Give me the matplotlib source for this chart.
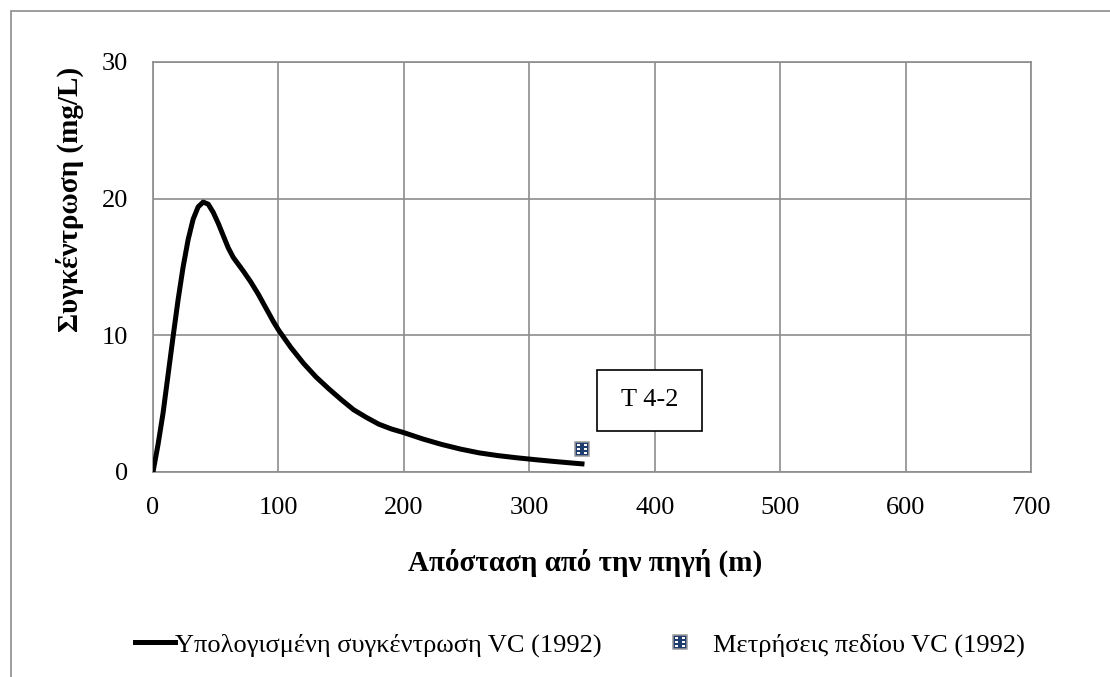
import matplotlib
matplotlib.use("Agg")
import matplotlib.pyplot as plt
from matplotlib.patches import Rectangle
from matplotlib.lines import Line2D
from matplotlib.path import Path

plt.rcParams['font.family'] = ['Liberation Serif', 'DejaVu Serif']

# Data
dist_calc = [0, 4, 8, 12, 16, 20, 24, 28, 32, 36, 40, 44, 48, 52, 56, 60, 64, 68, 72, 78,
             84, 90, 96, 100, 110, 120, 130, 140, 150, 160, 170, 180, 190, 200, 215, 230,
             245, 260, 275, 290, 305, 320, 335, 344]
conc_calc = [0, 2.0, 4.3, 7.1, 9.9, 12.6, 15.0, 17.0, 18.5, 19.4, 19.75, 19.6, 19.0, 18.2,
             17.3, 16.4, 15.7, 15.2, 14.7, 13.9, 13.0, 12.0, 11.0, 10.4, 9.1, 7.95, 6.95,
             6.1, 5.3, 4.55, 4.0, 3.5, 3.15, 2.88, 2.42, 2.02, 1.68, 1.40, 1.20, 1.04,
             0.90, 0.77, 0.65, 0.58]
dist_meas = [342]
conc_meas = [1.7]
x_ticks = [0, 100, 200, 300, 400, 500, 600, 700]
y_ticks = [0, 10, 20, 30]
label_calc = "Υπολογισμένη συγκέντρωση VC (1992)"
label_meas = "Μετρήσεις πεδίου VC (1992)"
xlabel = "Απόσταση από την πηγή (m)"
ylabel = "Συγκέντρωση (mg/L)"
note = "T 4-2"

# patterned square marker (blue square with white dots as holes)
def _sq(cx, cy, h, ccw=True):
    pts = [(cx-h, cy-h), (cx+h, cy-h), (cx+h, cy+h), (cx-h, cy+h)]
    if not ccw:
        pts = pts[::-1]
    return pts + [pts[0]]

verts, codes = [], []
for cx, cy, h, ccw in [(0, 0, 1.0, True)] + [(x, y, 0.2, False)
                                            for x in (-0.42, 0.42) for y in (-0.55, 0.0, 0.55)]:
    p = _sq(cx, cy, h, ccw)
    verts += p
    codes += [Path.MOVETO, Path.LINETO, Path.LINETO, Path.LINETO, Path.CLOSEPOLY]
dot_square = Path(verts, codes)

W, H = 1110, 677
fig = plt.figure(figsize=(W/100, H/100), dpi=100)
ax = fig.add_axes([153/W, 1-472/H, (1031-153)/W, (472-62)/H])

grid_c = '#8c8c8c'
ax.set_xlim(0, 700)
ax.set_ylim(0, 30)
ax.set_xticks(x_ticks)
ax.set_yticks(y_ticks)
ax.grid(True, color=grid_c, linewidth=1.2)
ax.set_axisbelow(True)
for s in ax.spines.values():
    s.set_color(grid_c)
    s.set_linewidth(1.2)
ax.tick_params(length=0, labelsize=19, pad=18, colors='black')

ax.plot(dist_calc, conc_calc, color='black', linewidth=3.6, solid_capstyle='butt',
        solid_joinstyle='round', zorder=3)
m1, = ax.plot(dist_meas, conc_meas, linestyle='none', marker=dot_square, markersize=10.5,
              markerfacecolor='#1e3d6e', markeredgewidth=0, zorder=4)
m2, = ax.plot(dist_meas, conc_meas, linestyle='none', marker='s', markersize=10.5,
              markerfacecolor='none', markeredgecolor='#9a9a9a', markeredgewidth=1.1, zorder=5)

# annotation box
ax.add_patch(Rectangle((354, 3.0), 84, 4.45, facecolor='white', edgecolor='black',
                       linewidth=1.2, zorder=6))
ax.text(396, 5.25, note, ha='center', va='center', fontsize=19, zorder=7)

# axis titles
fig.text(585/W, 1-563/H, xlabel, ha='center', va='center', fontsize=21, fontweight='bold')
fig.text(70/W, 1-199/H, ylabel, ha='center', va='center', rotation=90,
         fontsize=21, fontweight='bold')

# legend (two entries placed separately)
h1 = Line2D([], [], color='black', linewidth=3.6)
fig.legend([h1], [label_calc], loc='center left', bbox_to_anchor=(135/W, 1-645/H),
           frameon=False, fontsize=19, handlelength=1.5, handletextpad=0.0,
           borderpad=0, borderaxespad=0)
fig.legend([(m1, m2)], [label_meas], loc='center left', bbox_to_anchor=(660/W, 1-645/H),
           frameon=False, fontsize=19, handlelength=1.5, handletextpad=0.51,
           borderpad=0, borderaxespad=0, numpoints=1)

# outer border (clipped at right and bottom)
fig.patches.append(Rectangle((11/W, -0.1), 1.2, 1.1 - 11/H, transform=fig.transFigure,
                             facecolor='none', edgecolor='#8c8c8c', linewidth=1.2))

fig.savefig('out.png', dpi=100)
